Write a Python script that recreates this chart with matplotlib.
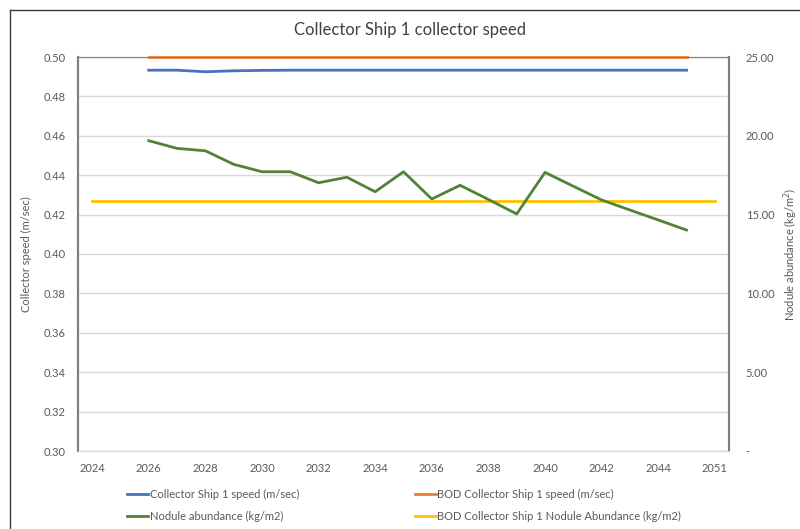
import numpy as np
import matplotlib
matplotlib.use("Agg")
import matplotlib.pyplot as plt
from matplotlib.lines import Line2D

plt.rcParams['font.family'] = ['Lato', 'DejaVu Sans']

# category axis (Excel style), labels shown on every other category
categories = [2024, 2025, 2026, 2027, 2028, 2029, 2030, 2031, 2032, 2033, 2034,
              2035, 2036, 2037, 2038, 2039, 2040, 2041, 2042, 2043, 2044, 2045, 2051]

years = [2026, 2027, 2028, 2029, 2030, 2031, 2032, 2033, 2034, 2035,
         2036, 2037, 2038, 2039, 2040, 2041, 2042, 2043, 2044, 2045]
ship_speed = [0.4933, 0.4933, 0.4925, 0.4930, 0.4932, 0.4933, 0.4933, 0.4933, 0.4933, 0.4933,
              0.4933, 0.4933, 0.4933, 0.4933, 0.4933, 0.4933, 0.4933, 0.4933, 0.4933, 0.4933]
bod_speed = [0.50] * len(years)
nodule = [19.69, 19.20, 19.05, 18.19, 17.72, 17.72, 17.02, 17.37, 16.45, 17.72,
          15.99, 16.86, 15.96, 15.04, 17.68, 16.80, 15.93, 15.29, 14.66, 14.02]
bod_nodule = [15.88] * len(categories)

x_all = np.arange(len(categories))
x_dat = np.array([categories.index(y) for y in years])

fig = plt.figure(figsize=(8, 5.29), dpi=100)
ax = fig.add_axes([78 / 800, 1 - 451 / 529, (729 - 78) / 800, (451 - 57) / 529])
ax2 = ax.twinx()

blue = '#4472C4'
orange = '#ED7D31'
green = '#548235'
yellow = '#FFC000'
txt = '#595959'

l1, = ax.plot(x_dat, ship_speed, color=blue, lw=2, zorder=3)
l2, = ax.plot(x_dat, bod_speed, color=orange, lw=2, zorder=3, clip_on=False)
l4, = ax2.plot(x_all, bod_nodule, color=yellow, lw=2)
l3, = ax2.plot(x_dat, nodule, color=green, lw=2)

ax.set_ylim(0.30, 0.50)
ax.set_yticks(np.arange(0.30, 0.501, 0.02))
ax.yaxis.set_major_formatter(plt.FuncFormatter(lambda v, p: f'{v:.2f}'))
ax2.set_ylim(0, 25)
ax2.set_yticks([0, 5, 10, 15, 20, 25])
ax2.yaxis.set_major_formatter(plt.FuncFormatter(lambda v, p: '-' if v == 0 else f'{v:.2f}'))

ax.set_xlim(-0.5, len(categories) - 0.5)
ax.set_xticks(x_all[::2])
ax.set_xticklabels([str(c) for c in categories[::2]])

ax.grid(axis='y', color='#D9D9D9', lw=1)
ax.set_axisbelow(True)

for a in (ax, ax2):
    a.tick_params(length=0, labelsize=8, labelcolor=txt)
    a.spines['bottom'].set_color('#D9D9D9')
    a.spines['top'].set_color('#808080')
    a.spines['top'].set_linewidth(0.8)
    a.spines['left'].set_color('#7F7F7F')
    a.spines['left'].set_linewidth(1.5)
    a.spines['right'].set_color('#7F7F7F')
    a.spines['right'].set_linewidth(1.5)
ax.tick_params(axis='x', pad=9)
ax.tick_params(axis='y', pad=9)
ax2.tick_params(axis='y', pad=12)

ax.set_ylabel('Collector speed (m/sec)', fontsize=8, color=txt, labelpad=8)
ax2.set_ylabel('Nodule abundance (kg/m$^2$)', fontsize=8, color=txt, rotation=90, labelpad=5)

fig.text(410 / 800, 1 - 30 / 529, 'Collector Ship 1 collector speed', ha='center', va='center',
         fontsize=12, color='#404040')

fig.legend([l1, l3, l2, l4],
           ['Collector Ship 1 speed (m/sec)', 'Nodule abundance (kg/m2)',
            'BOD Collector Ship 1 speed (m/sec)', 'BOD Collector Ship 1 Nodule Abundance (kg/m2)'],
           ncol=2, loc='upper left', bbox_to_anchor=(127 / 800, 1 - 489 / 529),
           frameon=False, fontsize=8, labelcolor=txt, handlelength=1.9, handletextpad=0.15,
           columnspacing=10.4, labelspacing=1.0, borderpad=0, borderaxespad=0)

# outer chart frame
fig.add_artist(Line2D([10 / 800, 1], [1 - 10 / 529, 1 - 10 / 529], color='#3A3A3A', lw=1))
fig.add_artist(Line2D([10 / 800, 10 / 800], [0, 1 - 10 / 529], color='#3A3A3A', lw=1))

fig.savefig('out.png', dpi=100)
